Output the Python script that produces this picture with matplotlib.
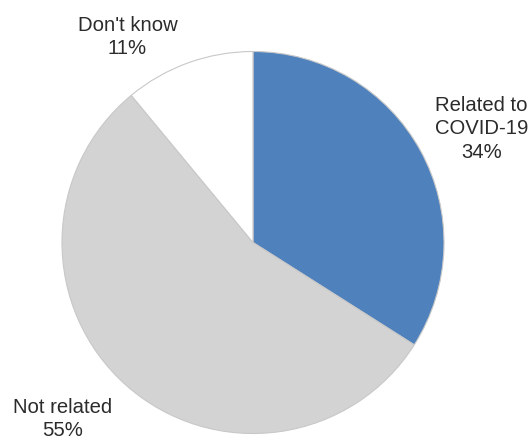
import matplotlib
matplotlib.use("Agg")
import matplotlib.pyplot as plt

categories = ["Related to\nCOVID-19", "Not related", "Don't know"]
values = [34, 55, 11]
colors = ["#4F81BD", "#D3D3D3", "#FFFFFF"]

W, H = 532, 439
cx, cy, r = 253, 243.5, 191

fig = plt.figure(figsize=(W / 100, H / 100), dpi=100)
ax = fig.add_axes([(cx - r) / W, (H - cy - r) / H, 2 * r / W, 2 * r / H])
wedges, _ = ax.pie(values, colors=colors, startangle=90, counterclock=False,
                   radius=1, wedgeprops=dict(edgecolor="#C8C8C8", linewidth=0.8))
ax.set_xlim(-1, 1)
ax.set_ylim(-1, 1)
ax.set_aspect("equal")
ax.axis("off")

def px(x, y):
    return (x - cx) / r, (cy - y) / r

label_pos = [(481.5, 129), (63, 419), (127.5, 37)]
for cat, v, (lx, ly) in zip(categories, values, label_pos):
    x, y = px(lx, ly)
    ax.text(x, y, f"{cat}\n{v}%", ha="center", va="center", fontsize=14.6,
            family="Liberation Sans", color="#2B2B2B", linespacing=1.32,
            clip_on=False)

fig.savefig("out.png", dpi=100)
